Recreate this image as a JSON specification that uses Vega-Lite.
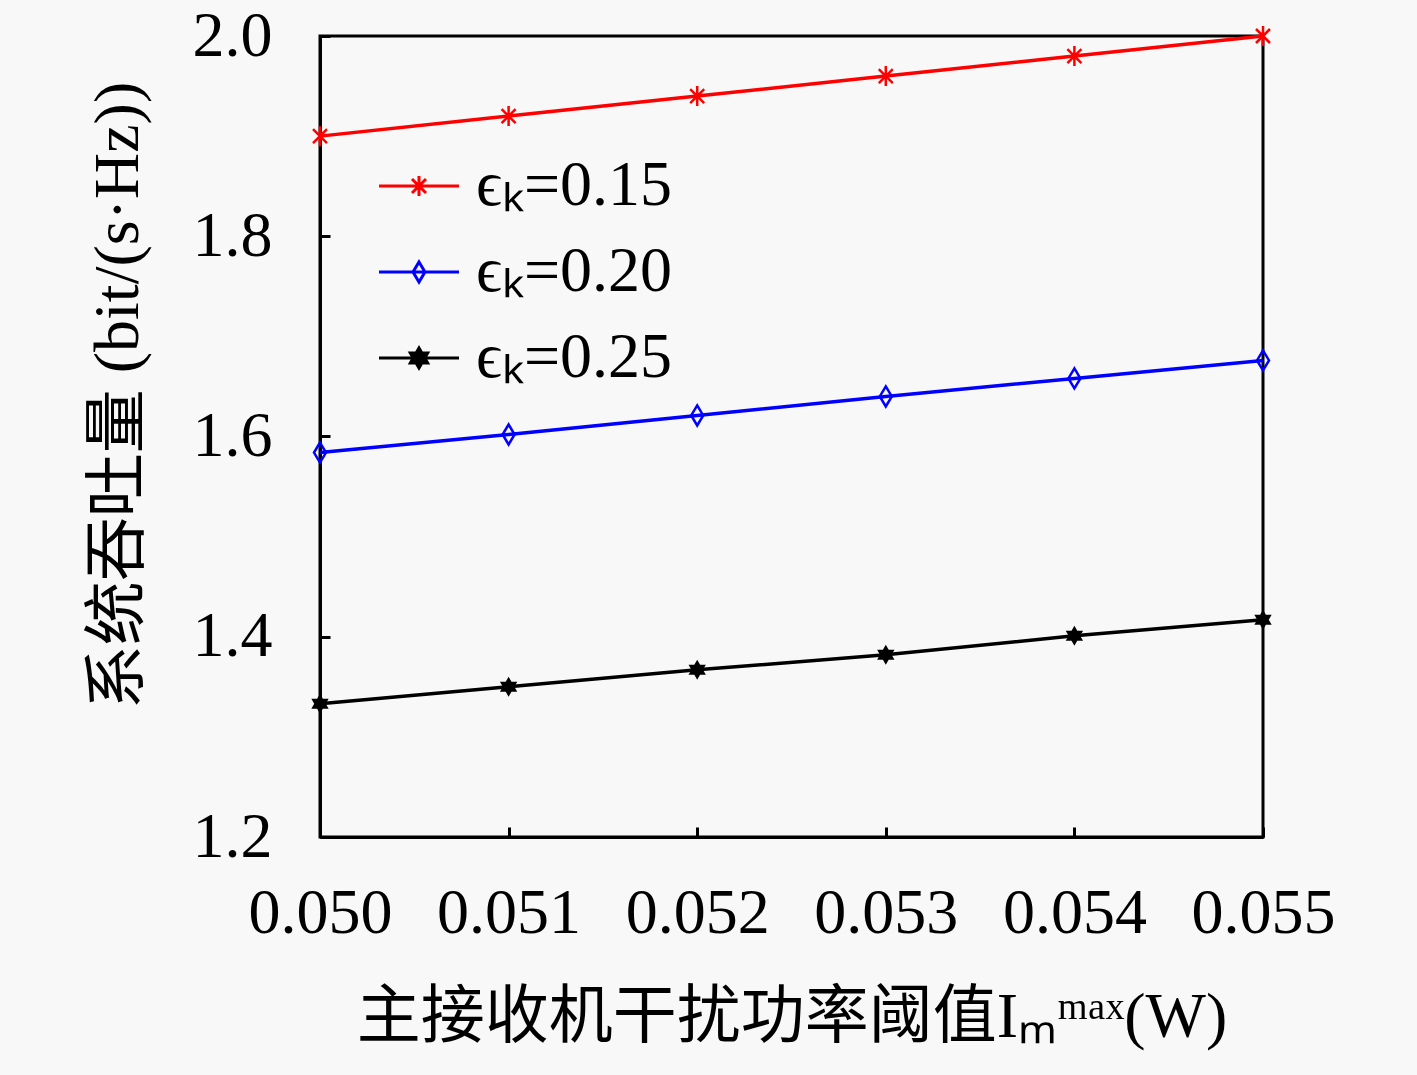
{
  "$schema": "https://vega.github.io/schema/vega-lite/v6.json",
  "width": 943,
  "height": 801,
  "autosize": {"type": "none"},
  "padding": {"left": 320, "top": 36, "right": 154, "bottom": 238},
  "background": "#f8f8f8",
  "data": {
    "values": [
      {"x": 0.050, "y": 1.900, "eps": "0.15"},
      {"x": 0.051, "y": 1.920, "eps": "0.15"},
      {"x": 0.052, "y": 1.940, "eps": "0.15"},
      {"x": 0.053, "y": 1.960, "eps": "0.15"},
      {"x": 0.054, "y": 1.980, "eps": "0.15"},
      {"x": 0.055, "y": 2.000, "eps": "0.15"},
      {"x": 0.050, "y": 1.584, "eps": "0.20"},
      {"x": 0.051, "y": 1.602, "eps": "0.20"},
      {"x": 0.052, "y": 1.621, "eps": "0.20"},
      {"x": 0.053, "y": 1.640, "eps": "0.20"},
      {"x": 0.054, "y": 1.658, "eps": "0.20"},
      {"x": 0.055, "y": 1.676, "eps": "0.20"},
      {"x": 0.050, "y": 1.333, "eps": "0.25"},
      {"x": 0.051, "y": 1.350, "eps": "0.25"},
      {"x": 0.052, "y": 1.367, "eps": "0.25"},
      {"x": 0.053, "y": 1.382, "eps": "0.25"},
      {"x": 0.054, "y": 1.401, "eps": "0.25"},
      {"x": 0.055, "y": 1.417, "eps": "0.25"}
    ]
  },
  "encoding": {
    "x": {
      "field": "x",
      "type": "quantitative",
      "scale": {"domain": [0.05, 0.055], "nice": false, "zero": false},
      "axis": {
        "values": [0.05, 0.051, 0.052, 0.053, 0.054, 0.055],
        "format": ".3f",
        "title": "主接收机干扰功率阈值Iₘᵐᵃˣ(W)",
        "labelPadding": 54,
        "titlePadding": 40
      }
    },
    "y": {
      "field": "y",
      "type": "quantitative",
      "scale": {"domain": [1.2, 2.0], "nice": false, "zero": false},
      "axis": {
        "values": [1.2, 1.4, 1.6, 1.8, 2.0],
        "format": ".1f",
        "title": "系统吞吐量 (bit/(s·Hz))",
        "titleY": 359,
        "labelPadding": 58,
        "titlePadding": 42
      }
    }
  },
  "layer": [
    {
      "mark": {"type": "line", "strokeWidth": 3.5},
      "encoding": {
        "color": {
          "field": "eps",
          "type": "nominal",
          "scale": {"domain": ["0.15", "0.20", "0.25"], "range": ["#ff0000", "#0000ff", "#000000"]},
          "legend": {
            "orient": "none",
            "legendX": 67,
            "legendY": 118,
            "title": null,
            "symbolSize": 400,
            "symbolStrokeWidth": 3,
            "labelFontSize": 64,
            "labelOffset": 25,
            "labelLimit": 400,
            "rowPadding": 22,
            "labelExpr": "'ϵₖ=' + datum.label",
            "encode": {
              "symbols": {
                "update": {
                  "shape": {"signal": "datum.value === '0.15' ? 'M-4,0H4M-0.7,-0.7L0.7,0.7M-0.7,0.7L0.7,-0.7M0,-1V1' : datum.value === '0.20' ? 'M-4,0H4M0,-1L0.6,0L0,1L-0.6,0Z' : 'M-4,0H4M0,-1L0.866,0.5L-0.866,0.5ZM0,1L-0.866,-0.5L0.866,-0.5Z'"},
                  "fill": {"signal": "datum.value === '0.25' ? '#000000' : 'transparent'"},
                  "fillOpacity": {"value": 1},
                  "strokeWidth": {"value": 3}
                }
              }
            }
          }
        }
      }
    },
    {
      "transform": [{"filter": "datum.eps === '0.15'"}],
      "mark": {"type": "point", "size": 400, "strokeWidth": 2.5, "opacity": 1, "color": "#ff0000", "filled": false, "shape": "M-0.7,-0.7L0.7,0.7M-0.7,0.7L0.7,-0.7M0,-1V1"}
    },
    {
      "transform": [{"filter": "datum.eps === '0.20'"}],
      "mark": {"type": "point", "size": 400, "strokeWidth": 2.5, "opacity": 1, "color": "#0000ff", "filled": false, "shape": "M0,-1L0.6,0L0,1L-0.6,0Z"}
    },
    {
      "transform": [{"filter": "datum.eps === '0.25'"}],
      "mark": {"type": "point", "size": 400, "strokeWidth": 2, "opacity": 1, "color": "#000000", "filled": true, "shape": "M0,-1L0.866,0.5L-0.866,0.5ZM0,1L-0.866,-0.5L0.866,-0.5Z"}
    }
  ],
  "config": {
    "font": "Liberation Serif",
    "view": {"stroke": "#000000", "strokeWidth": 3},
    "axis": {
      "grid": false,
      "domainColor": "#000000",
      "domainWidth": 3,
      "tickColor": "#000000",
      "tickWidth": 3,
      "tickSize": -10,
      "labelOverlap": false,
      "labelFlush": false,
      "labelBound": false,
      "labelFont": "Liberation Serif",
      "labelFontSize": 64,
      "labelColor": "#000000",
      "titleFont": "Liberation Serif, Noto Sans CJK SC",
      "titleFontSize": 64,
      "titleFontWeight": "normal",
      "titleColor": "#000000"
    },
    "legend": {
      "labelFont": "Liberation Serif",
      "labelColor": "#000000"
    }
  }
}
